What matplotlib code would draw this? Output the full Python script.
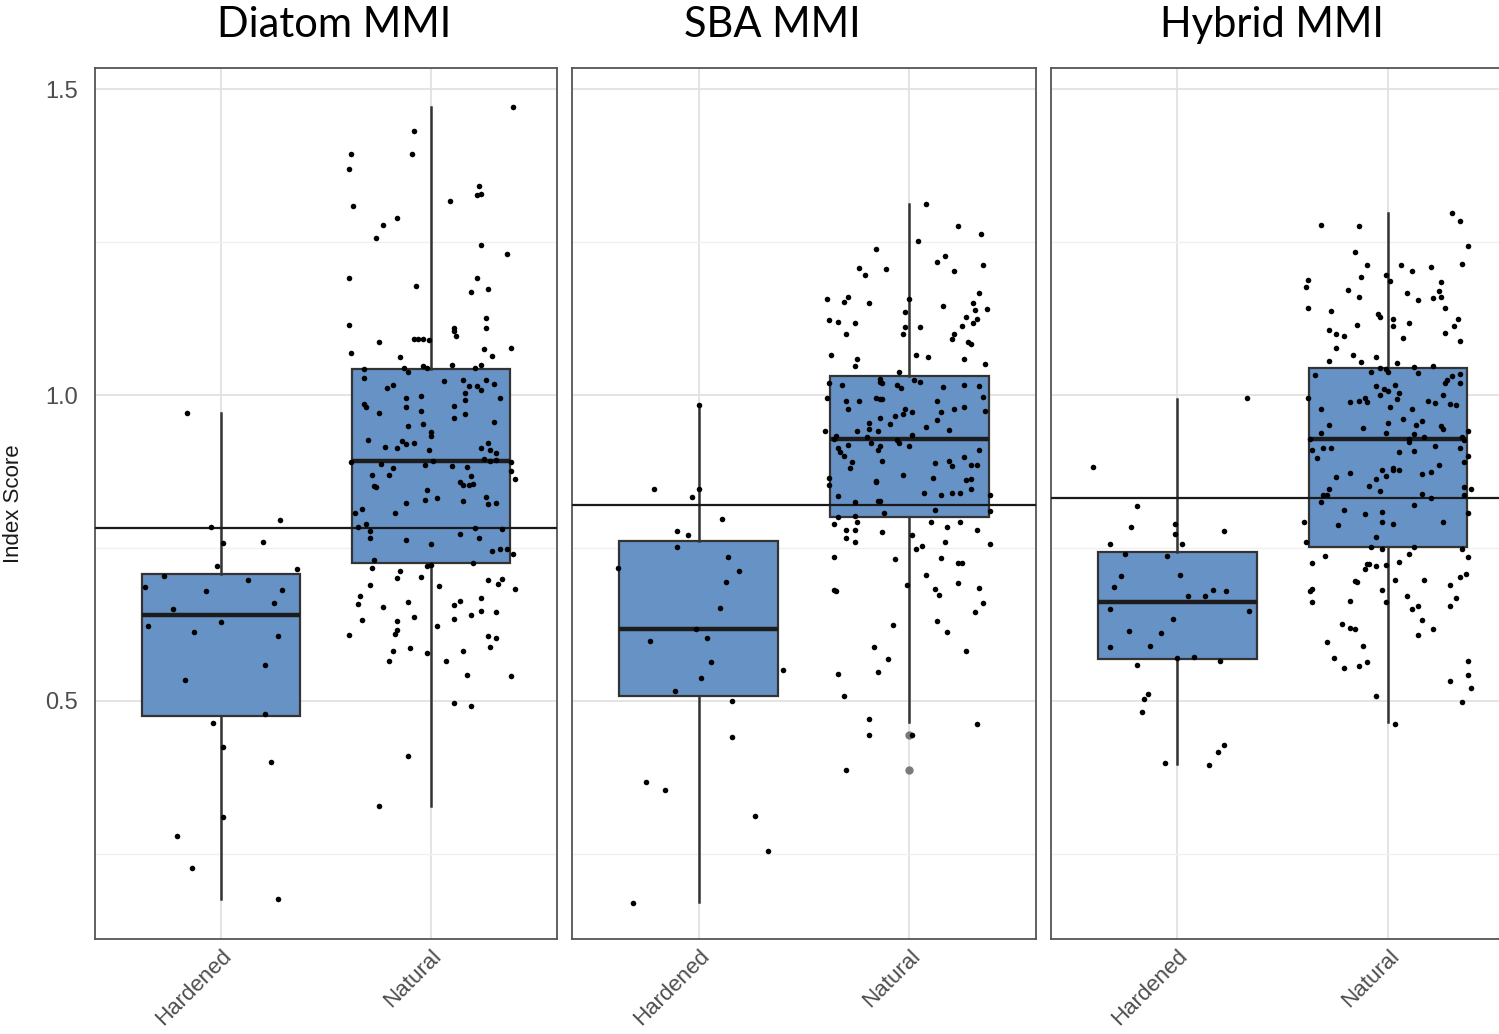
import matplotlib
matplotlib.use("Agg")
import matplotlib.pyplot as plt

# panel titles and groups
panels = ["Diatom MMI", "SBA MMI", "Hybrid MMI"]
groups = ["Hardened", "Natural"]

# reference (threshold) line per panel
ref_lines = [0.782, 0.820, 0.832]

# box statistics: (whislo, q1, med, q3, whishi)
box_stats = {
    "Diatom MMI": [(0.177, 0.475, 0.640, 0.708, 0.971), (0.328, 0.726, 0.892, 1.043, 1.471)],
    "SBA MMI": [(0.172, 0.508, 0.618, 0.762, 0.984), (0.465, 0.801, 0.928, 1.031, 1.312)],
    "Hybrid MMI": [(0.397, 0.569, 0.661, 0.743, 0.993), (0.465, 0.751, 0.928, 1.045, 1.297)],
}
fliers = {"SBA MMI": [0.445, 0.387]}

# individual sites: (index score, horizontal jitter)
diatom_hard = [(0.971, -0.16), (0.796, 0.28), (0.784, -0.05), (0.759, 0.01), (0.760, 0.20), (0.720, -0.02),
               (0.716, 0.36), (0.704, -0.27), (0.686, -0.36), (0.698, 0.13), (0.679, -0.07), (0.681, 0.29),
               (0.660, 0.25), (0.651, -0.23), (0.623, -0.35), (0.629, 0.0), (0.612, -0.13), (0.606, 0.27),
               (0.558, 0.21), (0.534, -0.17), (0.478, 0.21), (0.464, -0.04), (0.424, 0.01), (0.401, 0.24),
               (0.310, 0.01), (0.280, -0.21), (0.227, -0.14), (0.176, 0.27)]
diatom_nat = [(1.471, 0.39), (1.432, -0.08), (1.394, -0.38), (1.394, -0.09), (1.369, -0.39), (1.341, 0.23),
              (1.327, 0.22), (1.328, 0.24), (1.318, 0.09), (1.309, -0.37), (1.290, -0.16), (1.278, -0.23),
              (1.257, -0.26), (1.246, 0.24), (1.230, 0.36), (1.191, -0.39), (1.191, 0.22), (1.178, -0.07),
              (1.169, 0.19), (1.173, 0.27), (1.126, 0.26), (1.114, -0.39), (1.110, 0.26), (1.109, 0.11),
              (1.105, 0.11), (1.097, 0.12), (1.091, -0.08), (1.091, -0.06), (1.091, -0.04), (1.090, -0.01),
              (1.087, -0.25), (1.077, 0.38), (1.068, -0.38), (1.075, 0.25), (1.064, 0.29), (1.063, -0.15),
              (1.045, -0.13), (1.038, -0.11), (1.047, -0.04), (1.044, -0.02), (1.049, 0.10), (1.045, 0.21),
              (1.049, 0.24), (1.042, -0.32), (1.028, -0.32), (1.011, -0.21), (1.017, -0.18), (0.995, -0.12),
              (0.999, -0.05), (1.023, 0.06), (1.025, 0.15), (1.015, 0.18), (1.014, 0.22), (1.009, 0.24),
              (1.025, 0.26), (1.018, 0.30), (1.003, 0.16), (0.996, 0.33), (0.986, -0.32), (0.981, -0.31),
              (0.971, -0.25), (0.980, -0.12), (0.974, -0.05), (0.982, 0.11), (0.963, 0.11), (0.969, 0.16),
              (0.992, 0.16), (0.956, 0.30), (0.949, -0.11), (0.953, -0.04), (0.940, 0.0), (0.933, 0.0),
              (0.926, -0.30), (0.915, -0.22), (0.913, -0.16), (0.925, -0.14), (0.920, -0.12), (0.921, -0.08),
              (0.911, -0.01), (0.914, 0.24), (0.911, 0.28), (0.906, 0.31), (0.922, 0.27), (0.895, 0.25),
              (0.893, 0.28), (0.894, 0.31), (0.888, -0.24), (0.881, -0.18), (0.870, -0.20), (0.886, -0.03),
              (0.893, 0.01), (0.884, 0.10), (0.882, 0.17), (0.867, 0.19), (0.853, 0.18), (0.854, 0.20),
              (0.858, 0.14), (0.853, 0.15), (0.869, -0.28), (0.851, -0.27), (0.849, -0.26), (0.876, 0.38),
              (0.863, 0.40), (0.891, -0.38), (0.891, 0.38), (0.845, -0.02), (0.828, -0.03), (0.831, 0.03),
              (0.824, -0.12), (0.827, 0.15), (0.833, 0.26), (0.822, 0.27), (0.823, 0.31), (0.813, -0.33),
              (0.807, -0.36), (0.807, -0.17), (0.785, -0.35), (0.789, -0.31), (0.777, -0.29), (0.766, -0.29),
              (0.763, -0.12), (0.757, 0.0), (0.773, 0.14), (0.782, 0.21), (0.766, 0.23), (0.781, 0.34),
              (0.745, 0.29), (0.749, 0.33), (0.749, 0.36), (0.740, 0.39), (0.730, -0.27), (0.726, 0.20),
              (0.717, -0.28), (0.720, -0.02), (0.723, 0.0), (0.713, -0.15), (0.701, -0.16), (0.703, -0.05),
              (0.689, -0.29), (0.688, 0.04), (0.698, 0.27), (0.691, 0.32), (0.700, 0.34), (0.683, 0.40),
              (0.672, -0.34), (0.659, -0.35), (0.654, -0.23), (0.661, -0.11), (0.657, 0.11), (0.663, 0.14),
              (0.668, 0.24), (0.632, -0.33), (0.638, -0.08), (0.631, -0.16), (0.634, 0.11), (0.640, 0.19),
              (0.647, 0.24), (0.645, 0.31), (0.608, -0.39), (0.609, -0.17), (0.616, -0.16), (0.622, 0.03),
              (0.607, 0.27), (0.603, 0.31), (0.589, 0.28), (0.587, -0.10), (0.581, -0.18), (0.565, -0.20),
              (0.578, -0.02), (0.566, 0.07), (0.582, 0.15), (0.543, 0.17), (0.541, 0.38), (0.496, 0.11),
              (0.492, 0.19), (0.410, -0.11), (0.328, -0.25)]

sba_hard = [(0.984, 0.0), (0.846, -0.21), (0.846, 0.0), (0.834, -0.03), (0.797, 0.11), (0.778, -0.10),
            (0.772, -0.05), (0.751, -0.10), (0.736, 0.14), (0.717, -0.38), (0.712, 0.19), (0.694, 0.13),
            (0.652, 0.10), (0.618, -0.01), (0.598, -0.23), (0.603, 0.04), (0.564, 0.06), (0.550, 0.40),
            (0.538, 0.01), (0.516, -0.11), (0.500, 0.16), (0.441, 0.16), (0.368, -0.25), (0.354, -0.16),
            (0.312, 0.27), (0.254, 0.33), (0.170, -0.31)]
sba_nat = [(1.312, 0.08), (1.277, 0.23), (1.263, 0.34), (1.251, 0.04), (1.238, -0.16), (1.228, 0.17),
           (1.218, 0.13), (1.208, -0.24), (1.197, -0.21), (1.206, -0.11), (1.203, 0.21), (1.212, 0.35),
           (1.157, -0.39), (1.152, -0.31), (1.160, -0.29), (1.151, -0.19), (1.157, 0.0), (1.167, 0.33),
           (1.151, 0.30), (1.145, 0.16), (1.139, 0.31), (1.140, 0.37), (1.135, -0.02), (1.123, -0.38),
           (1.120, -0.34), (1.118, -0.26), (1.127, 0.27), (1.125, 0.32), (1.117, 0.30), (1.113, 0.25),
           (1.111, -0.02), (1.100, -0.03), (1.112, 0.05), (1.099, -0.30), (1.100, 0.21), (1.092, 0.20),
           (1.086, 0.28), (1.084, 0.29), (1.066, -0.37), (1.059, -0.25), (1.047, -0.26), (1.065, 0.03),
           (1.063, 0.09), (1.059, 0.26), (1.050, 0.36), (1.038, -0.05), (1.019, -0.38), (0.995, -0.39),
           (1.016, -0.32), (1.026, -0.14), (1.019, -0.13), (1.021, -0.14), (1.016, -0.06), (1.012, -0.04),
           (1.024, 0.02), (1.022, 0.05), (1.013, 0.16), (1.016, 0.26), (1.015, 0.33), (0.997, 0.35),
           (0.996, -0.16), (0.994, -0.14), (0.993, -0.13), (0.990, -0.30), (0.977, -0.29), (0.990, -0.24),
           (0.990, 0.13), (0.972, 0.15), (0.978, 0.21), (0.981, 0.26), (0.974, 0.36), (0.962, -0.14),
           (0.978, -0.02), (0.969, -0.03), (0.972, 0.01), (0.966, -0.07), (0.953, -0.09), (0.955, -0.19),
           (0.944, -0.19), (0.941, -0.25), (0.941, -0.15), (0.947, 0.08), (0.959, 0.13), (0.943, 0.19),
           (0.941, -0.40), (0.933, -0.35), (0.929, -0.36), (0.931, -0.20), (0.935, 0.01), (0.927, -0.06),
           (0.921, -0.05), (0.921, -0.18), (0.919, -0.29), (0.917, -0.14), (0.910, -0.15), (0.916, 0.0),
           (0.913, -0.34), (0.907, -0.33), (0.900, -0.31), (0.911, 0.33), (0.893, -0.13), (0.891, -0.27),
           (0.881, -0.28), (0.898, 0.26), (0.889, 0.12), (0.892, 0.19), (0.884, 0.20), (0.886, 0.29),
           (0.885, 0.32), (0.870, -0.03), (0.865, -0.38), (0.853, -0.38), (0.860, -0.16), (0.858, -0.16),
           (0.864, 0.11), (0.861, 0.27), (0.863, 0.29), (0.847, 0.29), (0.835, -0.34), (0.840, 0.07),
           (0.837, 0.15), (0.840, 0.20), (0.840, 0.24), (0.837, 0.38), (0.826, -0.26), (0.827, -0.15),
           (0.827, -0.14), (0.808, -0.12), (0.812, 0.12), (0.811, 0.38), (0.801, -0.34), (0.802, -0.26),
           (0.790, -0.36), (0.792, -0.25), (0.779, -0.30), (0.780, -0.26), (0.767, -0.30), (0.760, -0.26),
           (0.776, -0.13), (0.772, 0.01), (0.792, 0.10), (0.785, 0.18), (0.792, 0.24), (0.779, 0.32),
           (0.760, 0.17), (0.757, 0.38), (0.748, 0.03), (0.754, 0.06), (0.735, -0.36), (0.732, -0.07),
           (0.733, 0.15), (0.725, 0.23), (0.725, 0.25), (0.706, 0.08), (0.693, 0.23), (0.690, -0.01),
           (0.681, -0.36), (0.679, -0.35), (0.683, 0.12), (0.673, 0.14), (0.685, 0.33), (0.660, 0.35),
           (0.645, 0.31), (0.631, 0.13), (0.624, -0.08), (0.613, 0.18), (0.588, -0.17), (0.582, 0.27),
           (0.569, -0.10), (0.544, -0.34), (0.548, -0.15), (0.508, -0.31), (0.470, -0.19), (0.463, 0.32),
           (0.445, -0.19), (0.445, 0.01), (0.387, -0.30)]

hybrid_hard = [(0.996, 0.33), (0.882, -0.40), (0.818, -0.19), (0.784, -0.22), (0.790, -0.01), (0.773, -0.01),
               (0.777, 0.22), (0.757, -0.32), (0.756, 0.02), (0.740, -0.25), (0.737, -0.05), (0.705, -0.27),
               (0.686, -0.30), (0.706, 0.01), (0.671, 0.05), (0.671, 0.13), (0.681, 0.17), (0.679, 0.23),
               (0.650, -0.32), (0.647, 0.34), (0.634, -0.02), (0.614, -0.23), (0.611, -0.08), (0.589, -0.32),
               (0.590, -0.13), (0.571, 0.0), (0.572, 0.08), (0.565, 0.20), (0.559, -0.19), (0.504, -0.16),
               (0.511, -0.14), (0.482, -0.17), (0.428, 0.22), (0.417, 0.19), (0.398, -0.06), (0.395, 0.15)]
hybrid_nat = [(1.297, 0.30), (1.284, 0.34), (1.278, -0.32), (1.276, -0.14), (1.244, 0.38), (1.234, -0.16),
              (1.214, 0.35), (1.212, -0.10), (1.212, 0.06), (1.203, 0.11), (1.210, 0.20), (1.193, -0.13),
              (1.197, -0.01), (1.187, 0.01), (1.188, -0.38), (1.177, -0.39), (1.184, 0.25), (1.170, 0.24),
              (1.159, 0.21), (1.160, 0.25), (1.171, -0.19), (1.167, 0.09), (1.160, -0.14), (1.155, 0.14),
              (1.143, -0.38), (1.137, -0.27), (1.143, 0.27), (1.133, -0.05), (1.128, -0.04), (1.125, 0.02),
              (1.113, 0.02), (1.125, 0.33), (1.118, 0.10), (1.114, -0.15), (1.113, 0.31), (1.106, -0.28),
              (1.100, -0.25), (1.097, -0.21), (1.102, 0.27), (1.094, 0.07), (1.088, 0.34), (1.077, -0.25),
              (1.065, -0.17), (1.063, -0.06), (1.055, -0.28), (1.054, -0.13), (1.053, 0.04), (1.046, 0.12),
              (1.047, 0.21), (1.045, -0.04), (1.042, -0.01), (1.032, -0.35), (1.038, -0.08), (1.038, 0.0),
              (1.036, 0.14), (1.019, 0.27), (1.024, 0.28), (1.031, 0.30), (1.035, 0.34), (1.020, 0.34),
              (1.015, -0.06), (1.016, 0.03), (1.010, -0.02), (1.006, 0.0), (1.000, -0.04), (1.003, 0.05),
              (0.993, 0.04), (1.000, 0.26), (0.995, -0.38), (0.988, -0.18), (0.991, -0.14), (0.996, -0.11),
              (0.989, -0.10), (0.991, 0.19), (0.987, 0.22), (0.986, 0.29), (0.983, 0.32), (0.978, -0.32),
              (0.981, 0.01), (0.978, 0.11), (0.961, 0.07), (0.958, 0.16), (0.951, 0.13), (0.951, -0.28),
              (0.955, 0.0), (0.949, 0.25), (0.944, 0.26), (0.946, -0.12), (0.938, -0.32), (0.938, -0.01),
              (0.937, 0.12), (0.941, 0.38), (0.928, -0.37), (0.929, 0.10), (0.923, 0.10), (0.931, 0.17),
              (0.931, 0.35), (0.926, 0.36), (0.910, -0.36), (0.897, -0.34), (0.913, -0.31), (0.913, -0.27),
              (0.907, 0.05), (0.909, 0.12), (0.916, 0.22), (0.914, 0.34), (0.900, 0.38), (0.890, 0.36),
              (0.886, 0.24), (0.877, -0.03), (0.868, -0.01), (0.878, 0.02), (0.881, 0.02), (0.878, 0.05),
              (0.872, -0.18), (0.866, -0.25), (0.863, -0.06), (0.871, 0.16), (0.875, 0.20), (0.852, -0.09),
              (0.843, -0.04), (0.847, -0.28), (0.836, -0.31), (0.837, -0.29), (0.826, -0.32), (0.850, 0.36),
              (0.847, 0.39), (0.836, 0.36), (0.839, 0.16), (0.832, 0.20), (0.821, 0.12), (0.807, 0.38),
              (0.812, -0.21), (0.806, -0.11), (0.809, -0.03), (0.790, 0.02), (0.792, -0.03), (0.792, -0.40),
              (0.788, -0.24), (0.792, 0.26), (0.768, -0.06), (0.760, -0.39), (0.752, -0.08), (0.752, 0.12),
              (0.749, 0.35), (0.748, -0.03), (0.737, -0.30), (0.736, 0.38), (0.725, -0.36), (0.740, 0.10),
              (0.724, -0.10), (0.724, -0.09), (0.715, -0.11), (0.720, -0.06), (0.723, -0.01), (0.727, 0.05),
              (0.696, -0.16), (0.694, -0.15), (0.697, 0.03), (0.698, 0.17), (0.703, 0.34), (0.708, 0.37),
              (0.690, 0.29), (0.680, -0.37), (0.683, -0.36), (0.681, -0.03), (0.672, 0.09), (0.669, 0.32),
              (0.661, -0.36), (0.663, -0.18), (0.661, -0.01), (0.651, 0.11), (0.655, 0.14), (0.655, 0.29),
              (0.632, 0.16), (0.626, -0.22), (0.620, -0.18), (0.618, -0.16), (0.618, 0.21), (0.608, 0.14),
              (0.596, -0.29), (0.590, -0.12), (0.571, -0.26), (0.554, -0.21), (0.557, -0.14), (0.563, -0.10),
              (0.565, 0.38), (0.542, 0.38), (0.533, 0.29), (0.522, 0.39), (0.508, -0.06), (0.499, 0.35),
              (0.463, 0.03)]

sites = {
    "Diatom MMI": [diatom_hard, diatom_nat],
    "SBA MMI": [sba_hard, sba_nat],
    "Hybrid MMI": [hybrid_hard, hybrid_nat],
}

box_fill = "#6792c6"

fig = plt.figure(figsize=(14.99, 10.34), dpi=100)

# axes placement in figure fractions (third panel runs off the right edge like the original)
lefts = [0.0634, 0.3816, 0.7011]
widths = [0.3082, 0.3095, 0.3095]
title_x = [0.2228, 0.515, 0.8485]
bottom, height = 0.0919, 0.842

for k, name in enumerate(panels):
    ax = fig.add_axes([lefts[k], bottom, widths[k], height])

    stats = []
    for j, g in enumerate(groups):
        lo, q1, med, q3, hi = box_stats[name][j]
        fl = fliers.get(name, []) if g == "Natural" else []
        stats.append(dict(whislo=lo, q1=q1, med=med, q3=q3, whishi=hi, fliers=fl, label=g))
    ax.bxp(stats, positions=[1, 2], widths=0.75, patch_artist=True, showcaps=False,
           manage_ticks=False,
           boxprops=dict(facecolor=box_fill, edgecolor="#333333", lw=1.6),
           medianprops=dict(color="#1c1c1c", lw=3.2),
           whiskerprops=dict(color="#333333", lw=1.8),
           flierprops=dict(marker="o", markerfacecolor="#6e6e6e", markeredgecolor="none",
                           markersize=6, alpha=0.9))

    ax.axhline(ref_lines[k], color="#1a1a1a", lw=1.6, zorder=3)

    for j, pts in enumerate(sites[name]):
        ys = [p[0] for p in pts]
        xs = [j + 1 + p[1] for p in pts]
        ax.scatter(xs, ys, s=16, color="black", lw=0, zorder=4)

    ax.set_xlim(0.4, 2.6)
    ax.set_ylim(0.111, 1.534)
    ax.set_yticks([0.5, 1.0, 1.5])
    ax.set_yticks([0.25, 0.75, 1.25], minor=True)
    ax.set_xticks([1, 2])
    ax.grid(which="major", color="#e2e2e2", lw=1.3, zorder=0)
    ax.grid(which="minor", axis="y", color="#f0f0f0", lw=1.0, zorder=0)
    ax.set_axisbelow(True)

    for sp in ax.spines.values():
        sp.set_color("#555555")
        sp.set_linewidth(1.3)

    ax.tick_params(which="both", length=0, colors="#4d4d4d")
    ax.set_xticklabels(groups, rotation=45, ha="right", va="top", rotation_mode="anchor",
                       fontsize=16, color="#4d4d4d", family="Liberation Sans")
    ax.tick_params(axis="x", pad=5)
    if k == 0:
        ax.set_yticklabels(["0.5", "1.0", "1.5"], fontsize=17, color="#4d4d4d",
                           family="Liberation Sans")
        ax.tick_params(axis="y", pad=12)
        ax.set_ylabel("Index Score", fontsize=16, family="Liberation Sans", color="#1a1a1a")
        ax.yaxis.set_label_coords(-0.154, 0.5)
    else:
        ax.set_yticklabels([])

    fig.text(title_x[k], 0.976, name, ha="center", va="center", fontsize=30, family="Lato")

fig.savefig("out.png", dpi=100)
